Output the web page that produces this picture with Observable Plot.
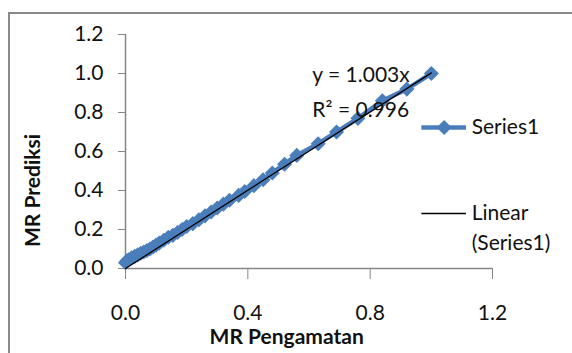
<!DOCTYPE html>
<html>
<head>
<meta charset="utf-8">
<script src="https://cdn.jsdelivr.net/npm/d3@7"></script>
<script src="https://cdn.jsdelivr.net/npm/@observablehq/plot@0.6"></script>
<style>
  html, body { margin: 0; padding: 0; background: #fff; }
  #wrap { position: relative; width: 572px; height: 353px; overflow: hidden; }
  #frame { position: absolute; left: 8px; top: 12px; width: 600px; height: 400px;
           border-left: 2px solid #8a8a8a; border-top: 2px solid #8a8a8a; box-sizing: border-box; }
  #chart { position: absolute; left: 0; top: 0; }
</style>
</head>
<body>
<div id="wrap"><div id="frame"></div><div id="chart"></div></div>
<script>
// Observed MR (x) and predicted MR (y)
const mrObserved = [1.0, 0.92, 0.84, 0.76, 0.69, 0.63, 0.56, 0.52, 0.48, 0.45, 0.42, 0.39, 0.37, 0.34, 0.32, 0.30, 0.28, 0.26, 0.24, 0.22, 0.20, 0.185, 0.17, 0.155, 0.14, 0.125, 0.11, 0.10, 0.09, 0.08, 0.07, 0.06, 0.05, 0.04, 0.03, 0.02, 0.01, 0.005, 0.0];
const mrPredicted = [1.0, 0.92, 0.86, 0.77, 0.70, 0.64, 0.58, 0.535, 0.49, 0.455, 0.425, 0.395, 0.375, 0.35, 0.33, 0.31, 0.29, 0.27, 0.25, 0.23, 0.215, 0.20, 0.185, 0.17, 0.16, 0.145, 0.13, 0.12, 0.11, 0.10, 0.092, 0.085, 0.078, 0.07, 0.062, 0.055, 0.045, 0.04, 0.03];
const trendSlope = 1.003;
const trendX = [0, 1.0];
const xTicks = [0, 0.4, 0.8, 1.2];
const yTicks = [0, 0.2, 0.4, 0.6, 0.8, 1.0, 1.2];
const eqLabels = ["y = 1.003x", "R² = 0.996"];
const legendLabels = ["Series1", "Linear", "(Series1)"];
const axisTitles = ["MR Pengamatan", "MR Prediksi"];

const points = mrObserved.map((x, i) => ({x, y: mrPredicted[i]}));
const trend = trendX.map(x => ({x, y: trendSlope * x}));

const BLUE = "#4a7ebb";
const GRAY = "#868686";
const INK = "#111";
const FONT = "Lato, 'Liberation Sans', sans-serif";
const FS = 21;

const chart = Plot.plot({
  width: 572,
  height: 353,
  marginLeft: 125,
  marginRight: 80,
  marginTop: 34,
  marginBottom: 85,
  style: {fontFamily: FONT, fontSize: FS + "px", background: "transparent", color: INK},
  x: {domain: [0, 1.2]},
  y: {domain: [0, 1.2]},
  marks: [
    Plot.axisX({ticks: xTicks, tickFormat: d => d.toFixed(1), tickSize: 11, tickPadding: 26,
                stroke: GRAY, fill: INK, fontSize: FS, label: null}),
    Plot.axisY({ticks: yTicks, tickFormat: d => d.toFixed(1), tickSize: 7, tickPadding: 15,
                stroke: GRAY, fill: INK, fontSize: FS, label: null}),
    Plot.ruleY([0], {x1: 0, x2: 1.2, stroke: GRAY, strokeWidth: 1.5}),
    Plot.ruleX([0], {y1: 0, y2: 1.2, stroke: GRAY, strokeWidth: 1.5}),
    Plot.line(points, {x: "x", y: "y", stroke: BLUE, strokeWidth: 4.5}),
    Plot.dot(points, {x: "x", y: "y", symbol: "diamond2", r: 6.8, fill: BLUE, stroke: "none"}),
    Plot.line(trend, {x: "x", y: "y", stroke: "#000", strokeWidth: 1.3}),
    // trendline equation
    Plot.text([eqLabels[0]], {x: 0.611, y: 0.99, text: d => d, textAnchor: "start", fontSize: FS, fill: INK}),
    Plot.text([eqLabels[1]], {x: 0.611, y: 0.81, text: d => d, textAnchor: "start", fontSize: FS, fill: INK}),
    // legend
    Plot.ruleY([0.723], {x1: 0.969, x2: 1.115, stroke: BLUE, strokeWidth: 4.5}),
    Plot.dot([0.723], {x: 1.042, y: d => d, symbol: "diamond2", r: 6.8, fill: BLUE, stroke: "none"}),
    Plot.text([legendLabels[0]], {x: 1.132, y: 0.723, text: d => d, textAnchor: "start", fontSize: FS, fill: INK}),
    Plot.ruleY([0.282], {x1: 0.969, x2: 1.115, stroke: "#000", strokeWidth: 1.3}),
    Plot.text([legendLabels[1]], {x: 1.132, y: 0.282, text: d => d, textAnchor: "start", fontSize: FS, fill: INK}),
    Plot.text([legendLabels[2]], {x: 1.132, y: 0.128, text: d => d, textAnchor: "start", fontSize: FS, fill: INK}),
    // axis titles
    Plot.text([axisTitles[0]], {x: 0.527, y: -0.355, text: d => d,
              fontSize: FS, fontWeight: "bold", fill: INK}),
    Plot.text([axisTitles[1]], {x: -0.302, y: 0.40, text: d => d, rotate: -90,
              fontSize: FS, fontWeight: "bold", fill: INK})
  ]
});
document.getElementById("chart").appendChild(chart);
</script>
</body>
</html>
